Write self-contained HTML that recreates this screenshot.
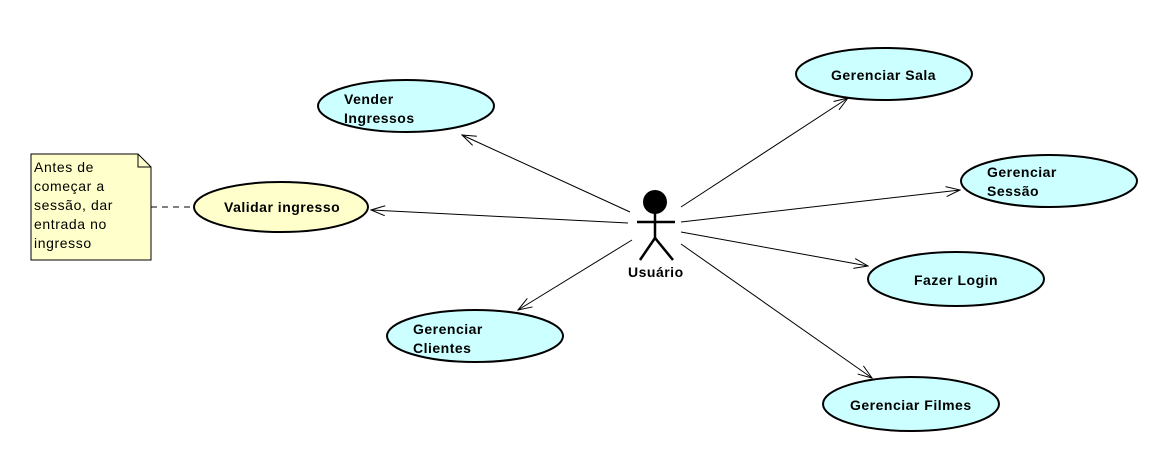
<!DOCTYPE html>
<html><head><meta charset="utf-8"><style>
html,body{margin:0;padding:0;background:#fff;}
svg{display:block;}
text{font-family:"Liberation Sans",Arial,sans-serif;font-size:14px;font-weight:bold;fill:#000;letter-spacing:0.5px;}
.n{font-weight:normal;font-size:14px;letter-spacing:0.6px;}
</style></head><body>
<svg width="1172" height="467" viewBox="0 0 1172 467" xmlns="http://www.w3.org/2000/svg">
<defs>
<marker id="a" markerWidth="16" markerHeight="12" refX="15" refY="6" orient="auto" markerUnits="userSpaceOnUse">
<path d="M1,1 L15,6 L1,11" fill="none" stroke="#000" stroke-width="1"/>
</marker>
</defs>
<g stroke="#000" stroke-width="1" fill="none" marker-end="url(#a)">
<line x1="630" y1="212" x2="462" y2="135"/>
<line x1="628" y1="223" x2="371" y2="210"/>
<line x1="632" y1="240" x2="518" y2="310"/>
<line x1="681" y1="207" x2="848" y2="98"/>
<line x1="681" y1="222" x2="960" y2="190"/>
<line x1="681" y1="232" x2="868" y2="266"/>
<line x1="681" y1="244" x2="872" y2="378"/>
</g>
<line x1="151" y1="207" x2="194" y2="207" stroke="#000" stroke-dasharray="6,5"/>
<path d="M31,154 L138,154 L151,167 L151,260 L31,260 Z" fill="#ffffcc" stroke="#000"/>
<path d="M138,154 L138,167 L151,167" fill="none" stroke="#000"/>
<text class="n" x="34" y="172">Antes de</text>
<text class="n" x="34" y="191">começar a</text>
<text class="n" x="34" y="210">sessão, dar</text>
<text class="n" x="34" y="229">entrada no</text>
<text class="n" x="34" y="248">ingresso</text>
<g stroke="#000" stroke-width="2">
<ellipse cx="406" cy="106" rx="88" ry="26" fill="#ccffff"/>
<ellipse cx="281" cy="207" rx="87" ry="25" fill="#ffffcc"/>
<ellipse cx="475" cy="336" rx="88" ry="26" fill="#ccffff"/>
<ellipse cx="884" cy="74" rx="88" ry="26" fill="#ccffff"/>
<ellipse cx="1049" cy="181" rx="88" ry="26" fill="#ccffff"/>
<ellipse cx="956" cy="279" rx="88" ry="27" fill="#ccffff"/>
<ellipse cx="911" cy="404" rx="88" ry="27" fill="#ccffff"/>
</g>
<text x="344" y="104">Vender</text>
<text x="344" y="123">Ingressos</text>
<text x="224" y="212">Validar ingresso</text>
<text x="413" y="334">Gerenciar</text>
<text x="413" y="353">Clientes</text>
<text x="831" y="80">Gerenciar Sala</text>
<text x="987" y="177">Gerenciar</text>
<text x="987" y="196">Sessão</text>
<text x="914" y="285">Fazer Login</text>
<text x="850" y="410">Gerenciar Filmes</text>
<circle cx="655" cy="202" r="12" fill="#000"/>
<g stroke="#000" stroke-width="2.5" fill="none">
<line x1="637" y1="222" x2="675" y2="222"/>
<line x1="655" y1="212" x2="655" y2="238"/>
<path d="M640,260 L655,238 L673,260"/>
</g>
<text x="628" y="277">Usuário</text>
</svg>
</body></html>
